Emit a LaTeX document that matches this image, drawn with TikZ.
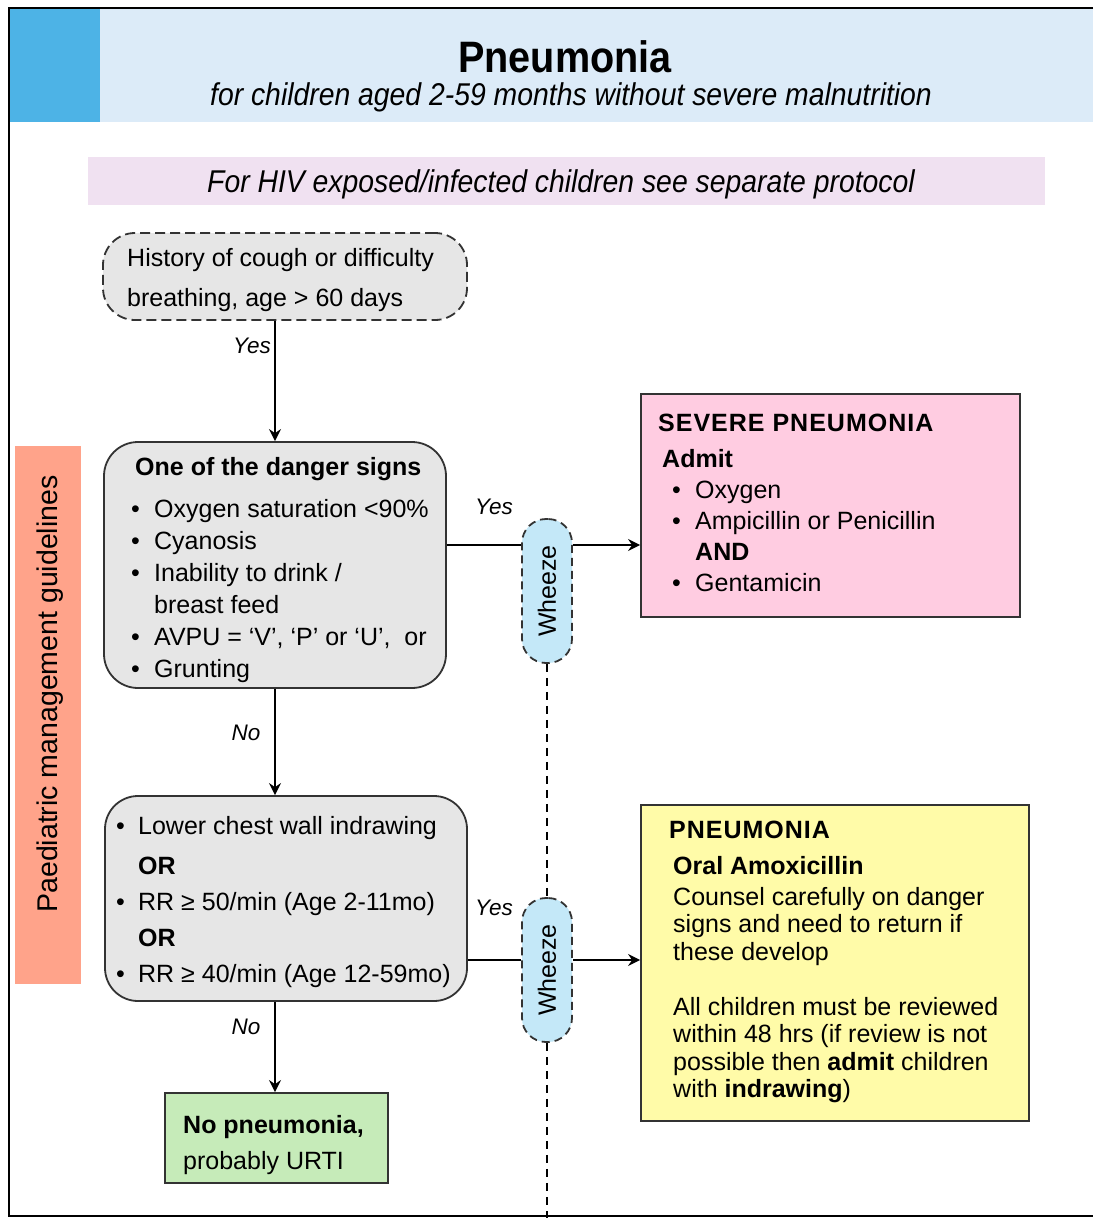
\documentclass[tikz,border=0pt]{standalone}
\usepackage{fontspec}
\setmainfont{Liberation Sans}
\newfontfamily\narrowfont[FakeStretch=0.9]{Liberation Sans}
\usetikzlibrary{arrows.meta}
\definecolor{hdrblue}{HTML}{4DB3E6}
\definecolor{bandblue}{HTML}{DCEBF8}
\definecolor{bandpink}{HTML}{F0E1F1}
\definecolor{boxgrey}{HTML}{E6E6E6}
\definecolor{boxline}{HTML}{333333}
\definecolor{wheezeblue}{HTML}{C4E8F8}
\definecolor{severepink}{HTML}{FFCCE1}
\definecolor{pneuyellow}{HTML}{FFFBA8}
\definecolor{urtigreen}{HTML}{C6EBB9}
\definecolor{sideorange}{HTML}{FFA38A}
\newcommand{\bul}[2][23pt]{\makebox[#1][l]{\textbullet}#2}
\begin{document}
\begin{tikzpicture}[x=1pt,y=-1pt,
  greybox/.style={draw=boxline, fill=boxgrey, line width=1.8pt, inner sep=0pt},
  plainbox/.style={draw=boxline, line width=1.8pt, inner sep=0pt},
  wheezebox/.style={draw=boxline, fill=wheezeblue, line width=1.8pt, dash pattern=on 8pt off 5pt, rounded corners=24pt, minimum width=50pt, minimum height=144pt, inner sep=0pt},
  txt/.style={anchor=base west, inner sep=0pt, font=\fontsize{25}{32}\selectfont},
  lbl/.style={inner sep=0pt, font=\itshape\fontsize{22.5}{24}\selectfont},
  arr/.style={line width=1.8pt, -{Stealth[length=12pt,width=12pt,inset=4pt]}},
  conn/.style={line width=1.8pt},
  dashconn/.style={line width=1.8pt, dash pattern=on 8pt off 6pt}
]
\useasboundingbox (0,0) rectangle (1093,1218);
\fill[white] (0,0) rectangle (1093,1218);
% header
\fill[hdrblue] (9,9) rectangle (100,122);
\fill[bandblue] (100,9) rectangle (1093,122);
\node[anchor=base, inner sep=0pt, font=\narrowfont\bfseries\fontsize{44}{44}\selectfont] (title) at (565,72) {Pneumonia};
\node[anchor=base, inner sep=0pt, font=\narrowfont\itshape\fontsize{31.5}{32}\selectfont] (subtitle) at (571,105) {for children aged 2-59 months without severe malnutrition};
% HIV band
\fill[bandpink] (88,157) rectangle (1045,205);
\node[anchor=base, inner sep=0pt, font=\narrowfont\itshape\fontsize{31.5}{32}\selectfont] (hiv) at (561,192) {For HIV exposed/infected children see separate protocol};
% side label
\fill[sideorange] (15,446) rectangle (81,984);
\node[rotate=90, inner sep=0pt, font=\fontsize{28.5}{30}\selectfont] (side) at (50,694) {Paediatric management guidelines};
% frame
\draw[line width=2.4pt] (1093,8) -- (9,8) -- (9,1216) -- (1093,1216);

% boxes
\node[greybox, dash pattern=on 10pt off 5pt, rounded corners=32pt, minimum width=364pt, minimum height=87pt] (hist) at (285,276.5) {};
\node[txt] (hist-t) at (127,266) {\parbox[t]{340pt}{\fontsize{25}{40}\selectfont History of cough or difficulty\\ breathing, age > 60 days}};

\node[greybox, rounded corners=34pt, minimum width=342pt, minimum height=246pt] (danger) at (275,565) {};
\node[txt] (danger-t) at (131,475) {\parbox[t]{320pt}{\fontsize{25}{32}\selectfont
\hspace*{4pt}\textbf{One of the danger signs}\\[10pt]
\bul{Oxygen saturation <90\%}\\
\bul{Cyanosis}\\
\bul{Inability to drink /}\\
\hspace*{23pt}breast feed\\
\bul{AVPU = ‘V’, ‘P’ or ‘U’,\ \ or}\\
\bul{Grunting}}};

\node[greybox, rounded corners=33pt, minimum width=362pt, minimum height=205pt] (lower) at (286,898.5) {};
\node[txt] (lower-t) at (116,834) {\parbox[t]{350pt}{\fontsize{25}{36}\selectfont
\bul[22pt]{Lower chest wall indrawing}\\[4pt]
\hspace*{22pt}\textbf{OR}\\
\bul[22pt]{RR ≥ 50/min (Age 2-11mo)}\\
\hspace*{22pt}\textbf{OR}\\
\bul[22pt]{RR ≥ 40/min (Age 12-59mo)}}};

\node[plainbox, fill=urtigreen, minimum width=223pt, minimum height=90pt] (urti) at (276.5,1138) {};
\node[txt] (urti-t) at (183,1133) {\parbox[t]{200pt}{\fontsize{25}{36}\selectfont
\textbf{No pneumonia,}\\ probably URTI}};

\node[plainbox, fill=severepink, minimum width=379pt, minimum height=223pt] (severe) at (830.5,505.5) {};
\node[txt] (severe-t) at (658,431) {\parbox[t]{360pt}{\fontsize{25}{31}\selectfont
\textbf{\addfontfeature{LetterSpace=4}SEVERE PNEUMONIA}\\[5pt]
\hspace*{4pt}\textbf{Admit}\\
\hspace*{14pt}\bul{Oxygen}\\
\hspace*{14pt}\bul{Ampicillin or Penicillin}\\
\hspace*{37pt}\textbf{AND}\\
\hspace*{14pt}\bul{Gentamicin}}};

\node[plainbox, fill=pneuyellow, minimum width=388pt, minimum height=316pt] (pneu) at (835,963) {};
\node[txt] (pneu-t) at (669,838) {\parbox[t]{360pt}{\fontsize{25}{27.5}\selectfont
\textbf{\addfontfeature{LetterSpace=4}PNEUMONIA}\\[8.5pt]
\hspace*{4pt}\textbf{Oral Amoxicillin}\\[3.5pt]
\hspace*{4pt}Counsel carefully on danger\\
\hspace*{4pt}signs and need to return if\\
\hspace*{4pt}these develop\\
\mbox{}\\
\hspace*{4pt}All children must be reviewed\\
\hspace*{4pt}within 48 hrs (if review is not\\
\hspace*{4pt}possible then \textbf{admit} children\\
\hspace*{4pt}with \textbf{indrawing})}};

% wheeze nodes
\node[wheezebox] (w1) at (547,591) {};
\node[rotate=90, inner sep=0pt, font=\fontsize{25}{26}\selectfont] (w1-t) at (w1) {Wheeze};
\node[wheezebox] (w2) at (547,970) {};
\node[rotate=90, inner sep=0pt, font=\fontsize{25}{26}\selectfont] (w2-t) at (w2) {Wheeze};

% connector helper coordinates
\coordinate (ya) at (0,545);
\coordinate (yb) at (0,960);
\coordinate (bottom) at (547,1218);

% connectors
\draw[arr] (danger.north |- hist.south) -- (danger.north);
\draw[arr] (danger.south) -- (danger.south |- lower.north);
\draw[arr] (danger.south |- lower.south) -- (danger.south |- urti.north);
\draw[conn] (danger.east |- ya) -- (w1.west |- ya);
\draw[arr] (w1.east |- ya) -- (severe.west |- ya);
\draw[conn] (lower.east |- yb) -- (w2.west |- yb);
\draw[arr] (w2.east |- yb) -- (pneu.west |- yb);
\draw[dashconn] (w1.south) -- (w2.north);
\draw[dashconn] (w2.south) -- (bottom);

% labels
\node[lbl] (yes1) at (252,346) {Yes};
\node[lbl] (no1) at (246,733) {No};
\node[lbl] (yes2) at (494,507) {Yes};
\node[lbl] (yes3) at (494,908) {Yes};
\node[lbl] (no2) at (246,1027) {No};
\end{tikzpicture}
\end{document}
